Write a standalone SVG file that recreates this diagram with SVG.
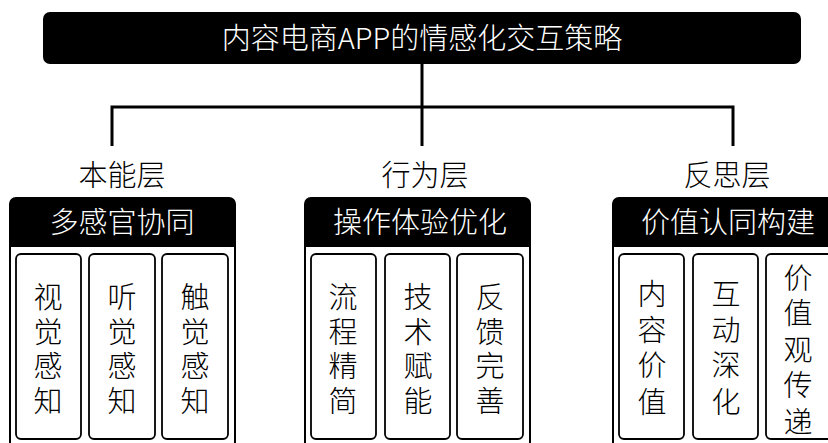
<svg xmlns="http://www.w3.org/2000/svg" width="828" height="443" viewBox="0 0 828 443">
<style>
text{font-family:"Noto Sans CJK SC","Noto Sans",sans-serif;text-anchor:middle;font-weight:300;}
.title{fill:#fff;font-size:29px;}
.layer{fill:#000;font-size:29px;}
.head{fill:#fff;font-size:29px;}
.item{fill:#000;font-size:29px;}
.outer{fill:#fff;stroke:#000;stroke-width:2;}
.hdr{fill:#000;}
.card{fill:#fff;stroke:#000;stroke-width:1.8;}
.conn{fill:none;stroke:#000;stroke-width:3;}
</style>
<rect width="828" height="443" fill="#fff"/>
<g id="connectors">
<path class="conn" d="M422 64V107M112 107H733M112 105.5V146M422 107V146M733 105.5V146"/>
</g>
<g id="root">
<rect x="43" y="12" width="758" height="52" rx="7" fill="#000"/>
<text class="title" x="422" y="49">内容电商APP的情感化交互策略</text>
</g>
<g id="layer1">
<text class="layer" x="122" y="186">本能层</text>
<rect class="outer" x="10" y="198" width="225" height="250" rx="6"/>
<path class="hdr" d="M16 198H229a6 6 0 0 1 6 6V247H10V204a6 6 0 0 1 6-6z"/>
<text class="head" x="122" y="233">多感官协同</text>
<rect class="card" x="16" y="254" width="65" height="185" rx="5"/>
<rect class="card" x="89" y="254" width="66" height="185" rx="5"/>
<rect class="card" x="162" y="254" width="66" height="185" rx="5"/>
<text class="item"><tspan x="48" y="308">视</tspan><tspan x="48" y="343">觉</tspan><tspan x="48" y="377">感</tspan><tspan x="48" y="412">知</tspan></text>
<text class="item"><tspan x="122" y="308">听</tspan><tspan x="122" y="343">觉</tspan><tspan x="122" y="377">感</tspan><tspan x="122" y="412">知</tspan></text>
<text class="item"><tspan x="195" y="308">触</tspan><tspan x="195" y="343">觉</tspan><tspan x="195" y="377">感</tspan><tspan x="195" y="412">知</tspan></text>
</g>
<g id="layer2">
<text class="layer" x="425" y="186">行为层</text>
<rect class="outer" x="305" y="198" width="225" height="250" rx="6"/>
<path class="hdr" d="M311 198H524a6 6 0 0 1 6 6V247H305V204a6 6 0 0 1 6-6z"/>
<text class="head" x="420" y="233">操作体验优化</text>
<rect class="card" x="311" y="254" width="65" height="185" rx="5"/>
<rect class="card" x="385" y="254" width="65" height="185" rx="5"/>
<rect class="card" x="457" y="254" width="66" height="185" rx="5"/>
<text class="item"><tspan x="343" y="308">流</tspan><tspan x="343" y="343">程</tspan><tspan x="343" y="377">精</tspan><tspan x="343" y="412">简</tspan></text>
<text class="item"><tspan x="418" y="308">技</tspan><tspan x="418" y="343">术</tspan><tspan x="418" y="377">赋</tspan><tspan x="418" y="412">能</tspan></text>
<text class="item"><tspan x="490" y="308">反</tspan><tspan x="490" y="343">馈</tspan><tspan x="490" y="377">完</tspan><tspan x="490" y="412">善</tspan></text>
</g>
<g id="layer3">
<text class="layer" x="727" y="186">反思层</text>
<rect class="outer" x="613" y="198" width="240" height="250" rx="6"/>
<path class="hdr" d="M619 198H847a6 6 0 0 1 6 6V247H613V204a6 6 0 0 1 6-6z"/>
<text class="head" x="728" y="233">价值认同构建</text>
<rect class="card" x="619" y="254" width="65" height="185" rx="5"/>
<rect class="card" x="693" y="254" width="65" height="185" rx="5"/>
<rect class="card" x="766" y="254" width="80" height="185" rx="5"/>
<text class="item"><tspan x="652" y="305">内</tspan><tspan x="652" y="341">容</tspan><tspan x="652" y="376">价</tspan><tspan x="652" y="413">值</tspan></text>
<text class="item"><tspan x="726" y="305">互</tspan><tspan x="726" y="341">动</tspan><tspan x="726" y="376">深</tspan><tspan x="726" y="413">化</tspan></text>
<text class="item"><tspan x="798" y="289">价</tspan><tspan x="798" y="324">值</tspan><tspan x="798" y="361">观</tspan><tspan x="798" y="396">传</tspan><tspan x="798" y="433">递</tspan></text>
</g>
</svg>
